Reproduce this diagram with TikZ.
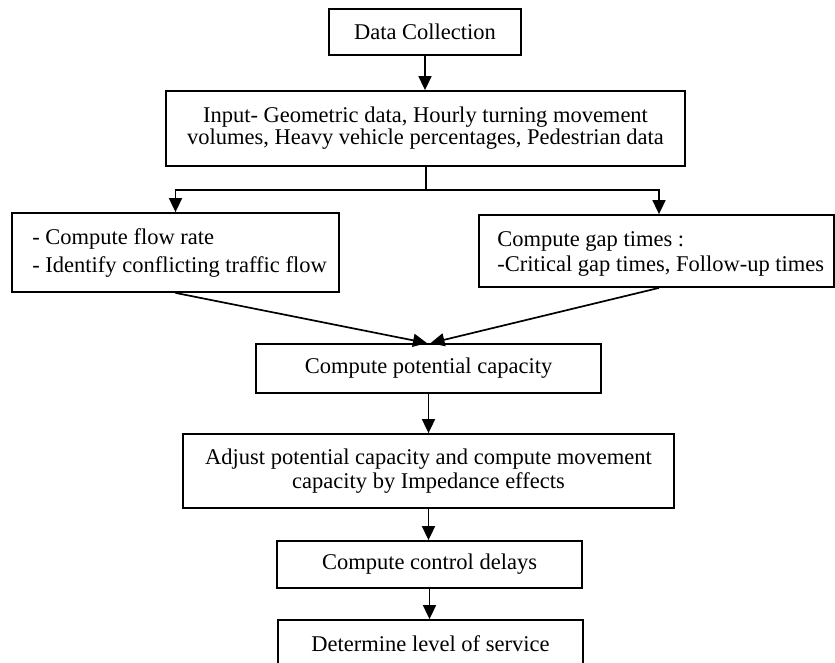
\documentclass[tikz,border=0pt]{standalone}
\usepackage{fontspec}
\setmainfont{Liberation Serif}
\usetikzlibrary{arrows.meta,calc}

\tikzset{
  boxtext/.style={font=\fontsize{22.5}{25}\selectfont},
  flowbox/.style={draw, line width=1.8pt, inner sep=0pt, align=center, boxtext},
  plainline/.style={line width=1.7pt},
  flowarrow/.style={line width=1.7pt, -{Triangle[width=13pt,length=14pt]}},
}

\begin{document}
\begin{tikzpicture}[x=1pt,y=-1pt]
  \useasboundingbox (0,0) rectangle (835,662);
  \clip (0,0) rectangle (835,662);

  % process boxes
  \node[flowbox, minimum width=192pt, minimum height=46pt] (dc) at (425,32) {Data Collection};
  \node[flowbox, minimum width=519pt, minimum height=75pt,
        font=\fontsize{22.5}{22}\selectfont] (input) at (425.5,128.5)
        {Input- Geometric data, Hourly turning movement\\volumes, Heavy vehicle percentages, Pedestrian data};
  \node[flowbox, minimum width=327pt, minimum height=79pt] (flowrate) at (175.5,252.5) {};
  \node[flowbox, minimum width=355pt, minimum height=72pt] (gaps) at (656.5,251) {};
  \node[flowbox, minimum width=345pt, minimum height=49pt] (potcap) at (428.5,368.5) {Compute potential capacity};
  \node[flowbox, minimum width=491pt, minimum height=74pt,
        font=\fontsize{22.5}{24}\selectfont] (adjust) at (428.5,471)
        {Adjust potential capacity and compute movement\\capacity by Impedance effects};
  \node[flowbox, minimum width=305pt, minimum height=47pt] (delays) at (429.5,564.5) {Compute control delays};
  \node[flowbox, minimum width=305pt, minimum height=47pt] (los) at (430.5,643.5) {Determine level of service};

  % left-aligned texts of the two middle boxes
  \node[boxtext, font=\fontsize{22.5}{28}\selectfont, align=left, inner sep=0pt, anchor=west]
    (flowratetext) at ($(flowrate.west)+(21,0.25)$)
    {- Compute flow rate\\- Identify conflicting traffic flow};
  \node[boxtext, align=left, inner sep=0pt, anchor=west]
    (gapstext) at ($(gaps.west)+(19,3.25)$)
    {Compute gap times :\\-Critical gap times, Follow-up times};

  % connectors
  \draw[flowarrow] (dc.south) -- (dc.south |- input.north);

  \coordinate (split) at ($(input.south)+(0.5,23)$);
  \draw[plainline] ($(input.south)+(0.5,0)$) -- (split);
  \draw[flowarrow] (split) -| (flowrate.north);
  \draw[flowarrow] (split) -| ([xshift=2.5pt]gaps.north);

  \draw[flowarrow] (flowrate.south) -- ([xshift=-1.5pt]potcap.north);
  \draw[flowarrow] ([xshift=2.5pt]gaps.south) -- ([xshift=2pt]potcap.north);

  \draw[flowarrow] (potcap.south) -- (potcap.south |- adjust.north);
  \draw[flowarrow] (adjust.south) -- (adjust.south |- delays.north);
  \draw[flowarrow] (delays.south) -- (delays.south |- los.north);
\end{tikzpicture}
\end{document}
